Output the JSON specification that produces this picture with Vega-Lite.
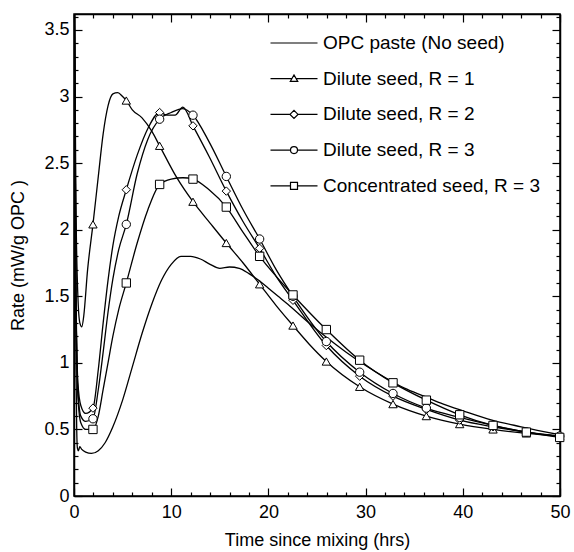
{
  "$schema": "https://vega.github.io/schema/vega-lite/v6.json",
  "width": 486,
  "height": 482,
  "autosize": {"type": "none"},
  "padding": {"left": 74, "top": 14, "right": 14, "bottom": 56},
  "background": "white",
  "config": {
    "font": "Liberation Sans",
    "view": {"stroke": "black", "strokeWidth": 1.5},
    "axis": {
      "grid": false,
      "domainColor": "black",
      "domainWidth": 1.5,
      "tickColor": "black",
      "tickWidth": 1.2,
      "labelColor": "black",
      "labelFontSize": 18,
      "labelFont": "Liberation Sans",
      "titleFont": "Liberation Sans",
      "titleFontSize": 18,
      "titleFontWeight": "normal",
      "titleColor": "black",
      "labelOverlap": false,
      "labelBound": false,
      "labelFlush": false
    },
    "legend": {"labelFont": "Liberation Sans"}
  },
  "data": {
    "values": [
      {"s": "OPC paste (No seed)", "t": 0.03, "r": 3.7, "m": 0},
      {"s": "OPC paste (No seed)", "t": 0.12, "r": 2.0, "m": 0},
      {"s": "OPC paste (No seed)", "t": 0.2, "r": 1.0, "m": 0},
      {"s": "OPC paste (No seed)", "t": 0.28, "r": 0.5, "m": 0},
      {"s": "OPC paste (No seed)", "t": 0.35, "r": 0.36, "m": 0},
      {"s": "OPC paste (No seed)", "t": 0.45, "r": 0.34, "m": 0},
      {"s": "OPC paste (No seed)", "t": 0.6, "r": 0.37, "m": 0},
      {"s": "OPC paste (No seed)", "t": 0.8, "r": 0.35, "m": 0},
      {"s": "OPC paste (No seed)", "t": 1.2, "r": 0.33, "m": 0},
      {"s": "OPC paste (No seed)", "t": 1.8, "r": 0.32, "m": 0},
      {"s": "OPC paste (No seed)", "t": 2.5, "r": 0.34, "m": 0},
      {"s": "OPC paste (No seed)", "t": 3.2, "r": 0.4, "m": 0},
      {"s": "OPC paste (No seed)", "t": 4, "r": 0.52, "m": 0},
      {"s": "OPC paste (No seed)", "t": 5, "r": 0.72, "m": 0},
      {"s": "OPC paste (No seed)", "t": 6, "r": 0.97, "m": 0},
      {"s": "OPC paste (No seed)", "t": 7, "r": 1.22, "m": 0},
      {"s": "OPC paste (No seed)", "t": 8, "r": 1.44, "m": 0},
      {"s": "OPC paste (No seed)", "t": 9, "r": 1.62, "m": 0},
      {"s": "OPC paste (No seed)", "t": 10, "r": 1.74, "m": 0},
      {"s": "OPC paste (No seed)", "t": 11, "r": 1.8, "m": 0},
      {"s": "OPC paste (No seed)", "t": 12, "r": 1.8, "m": 0},
      {"s": "OPC paste (No seed)", "t": 13, "r": 1.78, "m": 0},
      {"s": "OPC paste (No seed)", "t": 14, "r": 1.74, "m": 0},
      {"s": "OPC paste (No seed)", "t": 15, "r": 1.71, "m": 0},
      {"s": "OPC paste (No seed)", "t": 16, "r": 1.72, "m": 0},
      {"s": "OPC paste (No seed)", "t": 17, "r": 1.71, "m": 0},
      {"s": "OPC paste (No seed)", "t": 18, "r": 1.67, "m": 0},
      {"s": "OPC paste (No seed)", "t": 19, "r": 1.62, "m": 0},
      {"s": "OPC paste (No seed)", "t": 20, "r": 1.56, "m": 0},
      {"s": "OPC paste (No seed)", "t": 21, "r": 1.5, "m": 0},
      {"s": "OPC paste (No seed)", "t": 22, "r": 1.44, "m": 0},
      {"s": "OPC paste (No seed)", "t": 24, "r": 1.31, "m": 0},
      {"s": "OPC paste (No seed)", "t": 26, "r": 1.19, "m": 0},
      {"s": "OPC paste (No seed)", "t": 28, "r": 1.08, "m": 0},
      {"s": "OPC paste (No seed)", "t": 30, "r": 0.98, "m": 0},
      {"s": "OPC paste (No seed)", "t": 32, "r": 0.89, "m": 0},
      {"s": "OPC paste (No seed)", "t": 34, "r": 0.81, "m": 0},
      {"s": "OPC paste (No seed)", "t": 36, "r": 0.75, "m": 0},
      {"s": "OPC paste (No seed)", "t": 38, "r": 0.69, "m": 0},
      {"s": "OPC paste (No seed)", "t": 40, "r": 0.64, "m": 0},
      {"s": "OPC paste (No seed)", "t": 43, "r": 0.57, "m": 0},
      {"s": "OPC paste (No seed)", "t": 46, "r": 0.52, "m": 0},
      {"s": "OPC paste (No seed)", "t": 50, "r": 0.46, "m": 0},

      {"s": "Dilute seed, R = 1", "t": 0.05, "r": 3.7, "m": 0},
      {"s": "Dilute seed, R = 1", "t": 0.2, "r": 2.2, "m": 0},
      {"s": "Dilute seed, R = 1", "t": 0.4, "r": 1.5, "m": 0},
      {"s": "Dilute seed, R = 1", "t": 0.6, "r": 1.3, "m": 0},
      {"s": "Dilute seed, R = 1", "t": 0.8, "r": 1.27, "m": 0},
      {"s": "Dilute seed, R = 1", "t": 1.0, "r": 1.35, "m": 0},
      {"s": "Dilute seed, R = 1", "t": 1.4, "r": 1.7, "m": 0},
      {"s": "Dilute seed, R = 1", "t": 1.95, "r": 2.04, "m": 1},
      {"s": "Dilute seed, R = 1", "t": 2.5, "r": 2.4, "m": 0},
      {"s": "Dilute seed, R = 1", "t": 3, "r": 2.72, "m": 0},
      {"s": "Dilute seed, R = 1", "t": 3.5, "r": 2.93, "m": 0},
      {"s": "Dilute seed, R = 1", "t": 4, "r": 3.02, "m": 0},
      {"s": "Dilute seed, R = 1", "t": 4.5, "r": 3.03, "m": 0},
      {"s": "Dilute seed, R = 1", "t": 5, "r": 3.0, "m": 0},
      {"s": "Dilute seed, R = 1", "t": 5.38, "r": 2.97, "m": 1},
      {"s": "Dilute seed, R = 1", "t": 6, "r": 2.9, "m": 0},
      {"s": "Dilute seed, R = 1", "t": 7, "r": 2.84, "m": 0},
      {"s": "Dilute seed, R = 1", "t": 8, "r": 2.74, "m": 0},
      {"s": "Dilute seed, R = 1", "t": 8.81, "r": 2.63, "m": 1},
      {"s": "Dilute seed, R = 1", "t": 10.5, "r": 2.4, "m": 0},
      {"s": "Dilute seed, R = 1", "t": 12.24, "r": 2.21, "m": 1},
      {"s": "Dilute seed, R = 1", "t": 14, "r": 2.05, "m": 0},
      {"s": "Dilute seed, R = 1", "t": 15.67, "r": 1.9, "m": 1},
      {"s": "Dilute seed, R = 1", "t": 17.4, "r": 1.75, "m": 0},
      {"s": "Dilute seed, R = 1", "t": 19.1, "r": 1.59, "m": 1},
      {"s": "Dilute seed, R = 1", "t": 20.8, "r": 1.43, "m": 0},
      {"s": "Dilute seed, R = 1", "t": 22.53, "r": 1.28, "m": 1},
      {"s": "Dilute seed, R = 1", "t": 24.2, "r": 1.14, "m": 0},
      {"s": "Dilute seed, R = 1", "t": 25.96, "r": 1.01, "m": 1},
      {"s": "Dilute seed, R = 1", "t": 29.39, "r": 0.82, "m": 1},
      {"s": "Dilute seed, R = 1", "t": 32.82, "r": 0.69, "m": 1},
      {"s": "Dilute seed, R = 1", "t": 36.25, "r": 0.6, "m": 1},
      {"s": "Dilute seed, R = 1", "t": 39.68, "r": 0.54, "m": 1},
      {"s": "Dilute seed, R = 1", "t": 43.11, "r": 0.5, "m": 1},
      {"s": "Dilute seed, R = 1", "t": 46.54, "r": 0.47, "m": 1},
      {"s": "Dilute seed, R = 1", "t": 49.97, "r": 0.45, "m": 1},

      {"s": "Dilute seed, R = 2", "t": 0.05, "r": 3.7, "m": 0},
      {"s": "Dilute seed, R = 2", "t": 0.2, "r": 1.6, "m": 0},
      {"s": "Dilute seed, R = 2", "t": 0.4, "r": 0.85, "m": 0},
      {"s": "Dilute seed, R = 2", "t": 0.7, "r": 0.68, "m": 0},
      {"s": "Dilute seed, R = 2", "t": 1.2, "r": 0.62, "m": 0},
      {"s": "Dilute seed, R = 2", "t": 1.95, "r": 0.66, "m": 1},
      {"s": "Dilute seed, R = 2", "t": 2.5, "r": 0.95, "m": 0},
      {"s": "Dilute seed, R = 2", "t": 3, "r": 1.3, "m": 0},
      {"s": "Dilute seed, R = 2", "t": 3.5, "r": 1.62, "m": 0},
      {"s": "Dilute seed, R = 2", "t": 4, "r": 1.88, "m": 0},
      {"s": "Dilute seed, R = 2", "t": 4.6, "r": 2.1, "m": 0},
      {"s": "Dilute seed, R = 2", "t": 5.38, "r": 2.3, "m": 1},
      {"s": "Dilute seed, R = 2", "t": 6.5, "r": 2.56, "m": 0},
      {"s": "Dilute seed, R = 2", "t": 7.6, "r": 2.76, "m": 0},
      {"s": "Dilute seed, R = 2", "t": 8.81, "r": 2.88, "m": 1},
      {"s": "Dilute seed, R = 2", "t": 9.6, "r": 2.86, "m": 0},
      {"s": "Dilute seed, R = 2", "t": 10.4, "r": 2.86, "m": 0},
      {"s": "Dilute seed, R = 2", "t": 11.2, "r": 2.92, "m": 0},
      {"s": "Dilute seed, R = 2", "t": 12.24, "r": 2.78, "m": 1},
      {"s": "Dilute seed, R = 2", "t": 13.9, "r": 2.55, "m": 0},
      {"s": "Dilute seed, R = 2", "t": 15.67, "r": 2.29, "m": 1},
      {"s": "Dilute seed, R = 2", "t": 17.4, "r": 2.06, "m": 0},
      {"s": "Dilute seed, R = 2", "t": 19.1, "r": 1.86, "m": 1},
      {"s": "Dilute seed, R = 2", "t": 20.8, "r": 1.65, "m": 0},
      {"s": "Dilute seed, R = 2", "t": 22.53, "r": 1.47, "m": 1},
      {"s": "Dilute seed, R = 2", "t": 25.96, "r": 1.13, "m": 1},
      {"s": "Dilute seed, R = 2", "t": 29.39, "r": 0.9, "m": 1},
      {"s": "Dilute seed, R = 2", "t": 32.82, "r": 0.75, "m": 1},
      {"s": "Dilute seed, R = 2", "t": 36.25, "r": 0.65, "m": 1},
      {"s": "Dilute seed, R = 2", "t": 39.68, "r": 0.57, "m": 1},
      {"s": "Dilute seed, R = 2", "t": 43.11, "r": 0.52, "m": 1},
      {"s": "Dilute seed, R = 2", "t": 46.54, "r": 0.48, "m": 1},
      {"s": "Dilute seed, R = 2", "t": 49.97, "r": 0.45, "m": 1},

      {"s": "Dilute seed, R = 3", "t": 0.05, "r": 3.7, "m": 0},
      {"s": "Dilute seed, R = 3", "t": 0.2, "r": 1.5, "m": 0},
      {"s": "Dilute seed, R = 3", "t": 0.4, "r": 0.8, "m": 0},
      {"s": "Dilute seed, R = 3", "t": 0.7, "r": 0.6, "m": 0},
      {"s": "Dilute seed, R = 3", "t": 1.2, "r": 0.56, "m": 0},
      {"s": "Dilute seed, R = 3", "t": 1.95, "r": 0.58, "m": 1},
      {"s": "Dilute seed, R = 3", "t": 2.5, "r": 0.8, "m": 0},
      {"s": "Dilute seed, R = 3", "t": 3, "r": 1.08, "m": 0},
      {"s": "Dilute seed, R = 3", "t": 3.5, "r": 1.38, "m": 0},
      {"s": "Dilute seed, R = 3", "t": 4, "r": 1.63, "m": 0},
      {"s": "Dilute seed, R = 3", "t": 4.6, "r": 1.85, "m": 0},
      {"s": "Dilute seed, R = 3", "t": 5.38, "r": 2.04, "m": 1},
      {"s": "Dilute seed, R = 3", "t": 6.5, "r": 2.42, "m": 0},
      {"s": "Dilute seed, R = 3", "t": 7.6, "r": 2.68, "m": 0},
      {"s": "Dilute seed, R = 3", "t": 8.81, "r": 2.83, "m": 1},
      {"s": "Dilute seed, R = 3", "t": 10, "r": 2.88, "m": 0},
      {"s": "Dilute seed, R = 3", "t": 11.2, "r": 2.91, "m": 0},
      {"s": "Dilute seed, R = 3", "t": 12.24, "r": 2.86, "m": 1},
      {"s": "Dilute seed, R = 3", "t": 13.9, "r": 2.66, "m": 0},
      {"s": "Dilute seed, R = 3", "t": 15.67, "r": 2.4, "m": 1},
      {"s": "Dilute seed, R = 3", "t": 17.4, "r": 2.15, "m": 0},
      {"s": "Dilute seed, R = 3", "t": 19.1, "r": 1.93, "m": 1},
      {"s": "Dilute seed, R = 3", "t": 20.8, "r": 1.7, "m": 0},
      {"s": "Dilute seed, R = 3", "t": 22.53, "r": 1.5, "m": 1},
      {"s": "Dilute seed, R = 3", "t": 25.96, "r": 1.16, "m": 1},
      {"s": "Dilute seed, R = 3", "t": 29.39, "r": 0.93, "m": 1},
      {"s": "Dilute seed, R = 3", "t": 32.82, "r": 0.77, "m": 1},
      {"s": "Dilute seed, R = 3", "t": 36.25, "r": 0.66, "m": 1},
      {"s": "Dilute seed, R = 3", "t": 39.68, "r": 0.59, "m": 1},
      {"s": "Dilute seed, R = 3", "t": 43.11, "r": 0.53, "m": 1},
      {"s": "Dilute seed, R = 3", "t": 46.54, "r": 0.48, "m": 1},
      {"s": "Dilute seed, R = 3", "t": 49.97, "r": 0.45, "m": 1},

      {"s": "Concentrated seed, R = 3", "t": 0.05, "r": 3.7, "m": 0},
      {"s": "Concentrated seed, R = 3", "t": 0.2, "r": 1.5, "m": 0},
      {"s": "Concentrated seed, R = 3", "t": 0.4, "r": 0.75, "m": 0},
      {"s": "Concentrated seed, R = 3", "t": 0.7, "r": 0.55, "m": 0},
      {"s": "Concentrated seed, R = 3", "t": 1.2, "r": 0.5, "m": 0},
      {"s": "Concentrated seed, R = 3", "t": 1.95, "r": 0.5, "m": 1},
      {"s": "Concentrated seed, R = 3", "t": 2.5, "r": 0.6, "m": 0},
      {"s": "Concentrated seed, R = 3", "t": 3, "r": 0.8, "m": 0},
      {"s": "Concentrated seed, R = 3", "t": 3.5, "r": 1.0, "m": 0},
      {"s": "Concentrated seed, R = 3", "t": 4, "r": 1.2, "m": 0},
      {"s": "Concentrated seed, R = 3", "t": 4.6, "r": 1.4, "m": 0},
      {"s": "Concentrated seed, R = 3", "t": 5.38, "r": 1.6, "m": 1},
      {"s": "Concentrated seed, R = 3", "t": 6.5, "r": 1.9, "m": 0},
      {"s": "Concentrated seed, R = 3", "t": 7.6, "r": 2.15, "m": 0},
      {"s": "Concentrated seed, R = 3", "t": 8.81, "r": 2.34, "m": 1},
      {"s": "Concentrated seed, R = 3", "t": 10, "r": 2.38, "m": 0},
      {"s": "Concentrated seed, R = 3", "t": 11.2, "r": 2.39, "m": 0},
      {"s": "Concentrated seed, R = 3", "t": 12.24, "r": 2.38, "m": 1},
      {"s": "Concentrated seed, R = 3", "t": 13.9, "r": 2.3, "m": 0},
      {"s": "Concentrated seed, R = 3", "t": 15.67, "r": 2.17, "m": 1},
      {"s": "Concentrated seed, R = 3", "t": 17.4, "r": 1.98, "m": 0},
      {"s": "Concentrated seed, R = 3", "t": 19.1, "r": 1.8, "m": 1},
      {"s": "Concentrated seed, R = 3", "t": 20.8, "r": 1.65, "m": 0},
      {"s": "Concentrated seed, R = 3", "t": 22.53, "r": 1.51, "m": 1},
      {"s": "Concentrated seed, R = 3", "t": 25.96, "r": 1.25, "m": 1},
      {"s": "Concentrated seed, R = 3", "t": 29.39, "r": 1.02, "m": 1},
      {"s": "Concentrated seed, R = 3", "t": 32.82, "r": 0.85, "m": 1},
      {"s": "Concentrated seed, R = 3", "t": 36.25, "r": 0.72, "m": 1},
      {"s": "Concentrated seed, R = 3", "t": 39.68, "r": 0.61, "m": 1},
      {"s": "Concentrated seed, R = 3", "t": 43.11, "r": 0.53, "m": 1},
      {"s": "Concentrated seed, R = 3", "t": 46.54, "r": 0.48, "m": 1},
      {"s": "Concentrated seed, R = 3", "t": 49.97, "r": 0.44, "m": 1}
    ]
  },
  "layer": [
    {
      "mark": {"type": "line", "color": "black", "strokeWidth": 1.3, "interpolate": "monotone", "clip": true},
      "encoding": {
        "x": {
          "field": "t", "type": "quantitative",
          "scale": {"domain": [0, 50], "nice": false, "zero": false},
          "axis": {
            "orient": "bottom",
            "title": "Time since mixing (hrs)",
            "values": [0, 10, 20, 30, 40, 50],
            "ticks": false,
            "tickSize": 0,
            "labelPadding": 7,
            "titlePadding": 10
          }
        },
        "y": {
          "field": "r", "type": "quantitative",
          "scale": {"domain": [0, 3.62], "nice": false, "zero": false},
          "axis": {
            "orient": "left",
            "title": "Rate (mW/g OPC )",
            "values": [0, 0.5, 1, 1.5, 2, 2.5, 3, 3.5],
            "labelExpr": "format(datum.value, '~g')",
            "ticks": false,
            "tickSize": 0,
            "labelPadding": 5,
            "titlePadding": 16
          }
        },
        "detail": {"field": "s", "type": "nominal"}
      }
    },
    {
      "transform": [{"filter": "datum.m == 1"}],
      "mark": {"type": "point", "filled": true, "fill": "white", "stroke": "black", "strokeWidth": 1, "size": 70, "opacity": 1},
      "encoding": {
        "x": {
          "field": "t", "type": "quantitative",
          "axis": {"orient": "bottom", "title": null, "labels": false, "domain": false, "values": [0, 10, 20, 30, 40, 50], "tickSize": -8}
        },
        "y": {
          "field": "r", "type": "quantitative",
          "axis": {"orient": "left", "title": null, "labels": false, "domain": false, "values": [0, 0.5, 1, 1.5, 2, 2.5, 3, 3.5], "tickSize": -8}
        },
        "shape": {
          "field": "s", "type": "nominal",
          "scale": {
            "domain": ["OPC paste (No seed)", "Dilute seed, R = 1", "Dilute seed, R = 2", "Dilute seed, R = 3", "Concentrated seed, R = 3"],
            "range": ["circle", "triangle-up", "diamond", "circle", "square"]
          },
          "legend": null
        }
      }
    },
    {
      "mark": {"type": "point", "opacity": 0},
      "encoding": {
        "x": {
          "field": "t", "type": "quantitative",
          "axis": {"orient": "bottom", "title": null, "labels": false, "domain": false, "values": [2,4,6,8,12,14,16,18,22,24,26,28,32,34,36,38,42,44,46,48], "tickSize": -4}
        },
        "y": {
          "field": "r", "type": "quantitative",
          "axis": {"orient": "left", "title": null, "labels": false, "domain": false, "values": [0.1,0.2,0.3,0.4,0.6,0.7,0.8,0.9,1.1,1.2,1.3,1.4,1.6,1.7,1.8,1.9,2.1,2.2,2.3,2.4,2.6,2.7,2.8,2.9,3.1,3.2,3.3,3.4,3.6], "tickSize": -4}
        }
      }
    },
    {
      "mark": {"type": "point", "opacity": 0},
      "encoding": {
        "x": {
          "field": "t", "type": "quantitative",
          "axis": {"orient": "top", "title": null, "labels": false, "values": [0, 10, 20, 30, 40, 50], "tickSize": -8}
        },
        "y": {
          "field": "r", "type": "quantitative",
          "axis": {"orient": "right", "title": null, "labels": false, "values": [0, 0.5, 1, 1.5, 2, 2.5, 3, 3.5], "tickSize": -8}
        }
      }
    },
    {
      "mark": {"type": "point", "opacity": 0},
      "encoding": {
        "x": {
          "field": "t", "type": "quantitative",
          "axis": {"orient": "top", "title": null, "labels": false, "domain": false, "values": [2,4,6,8,12,14,16,18,22,24,26,28,32,34,36,38,42,44,46,48], "tickSize": -4}
        },
        "y": {
          "field": "r", "type": "quantitative",
          "axis": {"orient": "right", "title": null, "labels": false, "domain": false, "values": [0.1,0.2,0.3,0.4,0.6,0.7,0.8,0.9,1.1,1.2,1.3,1.4,1.6,1.7,1.8,1.9,2.1,2.2,2.3,2.4,2.6,2.7,2.8,2.9,3.1,3.2,3.3,3.4,3.6], "tickSize": -4}
        }
      }
    },
    {
      "transform": [{"filter": "datum.m == 2"}],
      "mark": {"type": "point", "filled": false, "color": "black", "strokeWidth": 1.2},
      "encoding": {
        "x": {"field": "t", "type": "quantitative", "axis": null},
        "y": {"field": "r", "type": "quantitative", "axis": null},
        "shape": {
          "field": "s", "type": "nominal",
          "scale": {
            "domain": ["OPC paste (No seed)", "Dilute seed, R = 1", "Dilute seed, R = 2", "Dilute seed, R = 3", "Concentrated seed, R = 3"],
            "range": [
              "M-4.7,0L4.7,0",
              "M-4.7,0L-0.43,0M0.43,0L4.7,0M-0.75,0.55L0,-0.75L0.75,0.55Z",
              "M-4.7,0L-0.8,0M0.8,0L4.7,0M-0.8,0L0,-0.8L0.8,0L0,0.8Z",
              "M-4.7,0L-0.7,0M0.7,0L4.7,0M-0.7,0A0.7,0.7 0 1,0 0.7,0A0.7,0.7 0 1,0 -0.7,0Z",
              "M-4.7,0L-0.7,0M0.7,0L4.7,0M-0.7,-0.7L0.7,-0.7L0.7,0.7L-0.7,0.7Z"
            ]
          },
          "legend": {
            "orient": "none",
            "legendX": 210.5,
            "legendY": 19.5,
            "title": null,
            "padding": 0,
            "symbolSize": 100,
            "rowPadding": 15.7,
            "labelOffset": 19.5,
            "labelFontSize": 19,
            "labelColor": "black",
            "labelLimit": 400,
            "symbolFillColor": "transparent",
            "symbolStrokeColor": "black",
            "symbolStrokeWidth": 1.2,
            "symbolOpacity": 1
          }
        }
      }
    }
  ],
  "resolve": {
    "axis": {"x": "independent", "y": "independent"},
    "scale": {"shape": "independent"}
  }
}
